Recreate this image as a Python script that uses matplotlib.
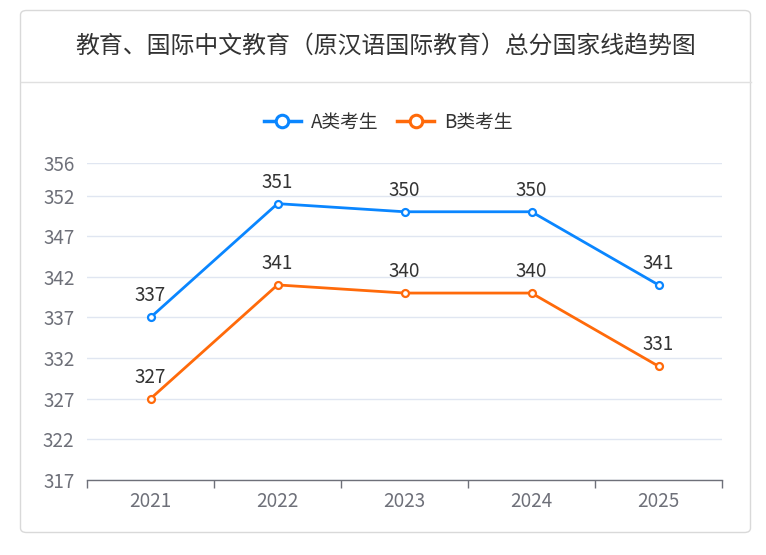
import matplotlib
matplotlib.use("Agg")
import matplotlib.pyplot as plt
from matplotlib.patches import FancyBboxPatch
from matplotlib.lines import Line2D

plt.rcParams['font.family'] = ['Noto Sans CJK SC', 'DejaVu Sans']

title = "教育、国际中文教育（原汉语国际教育）总分国家线趋势图"
years = ["2021", "2022", "2023", "2024", "2025"]
series_names = ["A类考生", "B类考生"]
a_scores = [337, 351, 350, 350, 341]
b_scores = [327, 341, 340, 340, 331]
y_ticks = [317, 322, 327, 332, 337, 342, 347, 352, 356]
colors = ["#0a86ff", "#ff6a0a"]

W, H = 766, 555
fig = plt.figure(figsize=(W / 100, H / 100), dpi=100)

# card
card = FancyBboxPatch((20.5 / W, 1 - 532.5 / H), 730 / W, 522 / H,
                      boxstyle="round,pad=0,rounding_size=0.008",
                      transform=fig.transFigure, facecolor="white",
                      edgecolor="#d9d9d9", linewidth=1.0, zorder=-5)
fig.patches.append(card)
fig.add_artist(Line2D([20.5 / W, 750.5 / W], [1 - 82 / H, 1 - 82 / H],
                      transform=fig.transFigure, color="#e0e0e0", linewidth=1.0,
                      zorder=-4))
fig.text(386 / W, 1 - 46 / H, title, ha="center", va="center",
         fontsize=17.2, color="#333333")

ax = fig.add_axes([87 / W, 1 - 480 / H, (722 - 87) / W, (480 - 163) / H])
ax.set_zorder(5)
ax.patch.set_alpha(0)
x = list(range(len(years)))
for vals, c, name in zip([a_scores, b_scores], colors, series_names):
    ax.plot(x, vals, color=c, linewidth=2, marker="o", markersize=5,
            markerfacecolor="white", markeredgecolor=c, markeredgewidth=1.6,
            label=name, zorder=3, clip_on=False)
    for xi, v in zip(x, vals):
        ax.annotate(str(v), (xi, v), xytext=(0, 8), textcoords="offset points",
                    ha="center", va="bottom", fontsize=13.6, color="#333333")

ax.set_xlim(-0.5, len(years) - 0.5)
ax.set_ylim(317, 356)
ax.set_yticks(y_ticks)
ax.set_yticklabels([str(t) for t in y_ticks])
ax.set_xticks(x)
ax.set_xticklabels(years)
ax.set_xticks([i - 0.5 for i in range(len(years) + 1)], minor=True)
ax.tick_params(axis="x", which="major", length=0, pad=8, labelsize=13.6, labelcolor="#6e7079")
ax.tick_params(axis="x", which="minor", length=6, width=1, color="#6e7079", direction="out")
ax.tick_params(axis="y", length=0, pad=9, labelsize=13.6, labelcolor="#6e7079")
ax.grid(axis="y", color="#e0e6f1", linewidth=1)
ax.set_axisbelow(True)
for s in ["top", "right", "left"]:
    ax.spines[s].set_visible(False)
ax.spines["bottom"].set_color("#6e7079")
ax.spines["bottom"].set_linewidth(1)

leg = fig.legend(loc="center", bbox_to_anchor=(388 / W, 1 - 122 / H), ncol=2,
                 frameon=False, fontsize=13.5, handlelength=2.0, columnspacing=1.0,
                 handletextpad=0.5, labelcolor="#333333")
for h in leg.legend_handles:
    h.set_markersize(9)
    h.set_markeredgewidth(2.2)
    h.set_linewidth(2.5)

fig.savefig("out.png", dpi=100, facecolor="white")
